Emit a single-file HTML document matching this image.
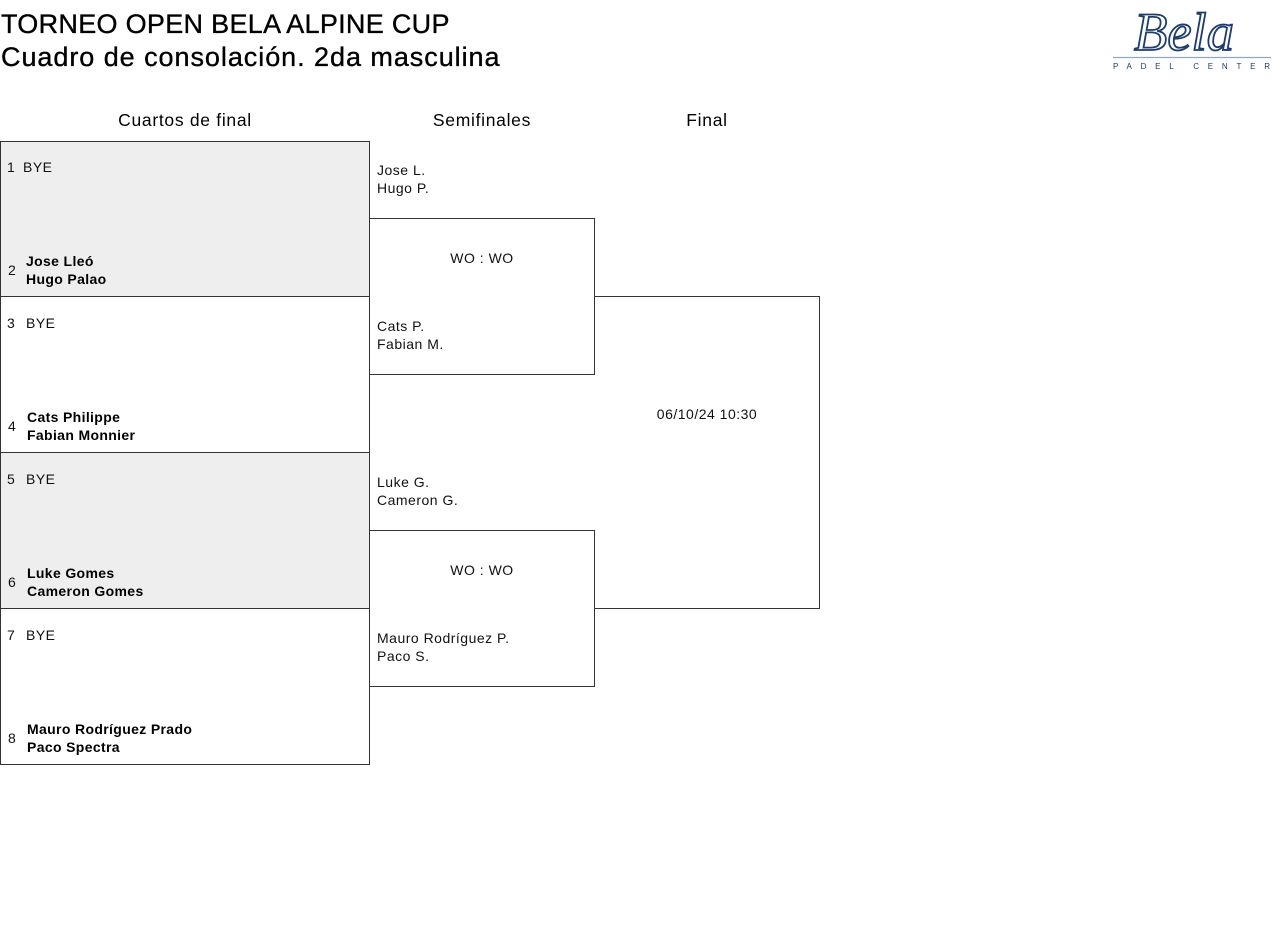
<!DOCTYPE html>
<html><head><meta charset="utf-8">
<style>
html,body{margin:0;padding:0;background:#fff;}
body{width:1280px;height:949px;position:relative;overflow:hidden;font-family:"Liberation Sans",Arial,sans-serif;color:#111;}
.a{position:absolute;}
.box{position:absolute;box-sizing:border-box;border:1px solid #333;}
.t{position:absolute;font-size:14px;line-height:18px;white-space:nowrap;letter-spacing:0.5px;color:#111;}
.b{font-weight:bold;color:#000;letter-spacing:0.35px;}
.h{position:absolute;font-size:17.5px;line-height:20px;white-space:nowrap;text-align:center;color:#000;letter-spacing:0.7px;}
.title{position:absolute;left:1px;font-size:27px;line-height:33px;white-space:nowrap;color:#000;-webkit-text-stroke:0.35px #000;}
</style></head><body>

<div class="title" style="top:8px;letter-spacing:0.3px;">TORNEO OPEN BELA ALPINE CUP</div>
<div class="title" style="top:41px;letter-spacing:0.95px;">Cuadro de consolación. 2da masculina</div>

<svg class="a" style="left:1100px;top:0px" width="180" height="80" viewBox="0 0 180 80">
  <text x="34" y="50" font-family="Liberation Serif, serif" font-style="italic" font-size="54" fill="none" stroke="#1d3d6e" stroke-width="1.8" textLength="100" lengthAdjust="spacingAndGlyphs">Bela</text>
  <line x1="13" y1="57.5" x2="171" y2="57.5" stroke="#8fa6c4" stroke-width="1.2"/>
  <text x="13" y="69" font-family="Liberation Sans, sans-serif" font-size="8" fill="#1d3d6e" textLength="157" lengthAdjust="spacing">PADEL CENTER</text>
</svg>

<div class="h" style="left:85px;width:200px;top:110px;">Cuartos de final</div>
<div class="h" style="left:382px;width:200px;top:110px;">Semifinales</div>
<div class="h" style="left:607px;width:200px;top:110px;">Final</div>

<!-- quarter boxes -->
<div class="box" style="left:0;top:141px;width:370px;height:156px;background:#eeeeee;"></div>
<div class="box" style="left:0;top:296px;width:370px;height:157px;background:#fff;"></div>
<div class="box" style="left:0;top:452px;width:370px;height:157px;background:#eeeeee;"></div>
<div class="box" style="left:0;top:608px;width:370px;height:157px;background:#fff;"></div>

<!-- semis boxes -->
<div class="box" style="left:369px;top:218px;width:226px;height:157px;"></div>
<div class="box" style="left:369px;top:530px;width:226px;height:157px;"></div>

<!-- final box (no left border) -->
<div class="box" style="left:594px;top:296px;width:226px;height:313px;border-left:none;"></div>

<!-- quarter texts -->
<div class="t" style="left:7px;top:158px;">1</div>
<div class="t" style="left:23px;top:158px;">BYE</div>
<div class="t" style="left:8px;top:261px;">2</div>
<div class="t b" style="left:26px;top:252px;">Jose Lleó<br>Hugo Palao</div>

<div class="t" style="left:7px;top:314px;">3</div>
<div class="t" style="left:26px;top:314px;">BYE</div>
<div class="t" style="left:8px;top:417px;">4</div>
<div class="t b" style="left:27px;top:408px;">Cats Philippe<br>Fabian Monnier</div>

<div class="t" style="left:7px;top:470px;">5</div>
<div class="t" style="left:26px;top:470px;">BYE</div>
<div class="t" style="left:8px;top:573px;">6</div>
<div class="t b" style="left:27px;top:564px;">Luke Gomes<br>Cameron Gomes</div>

<div class="t" style="left:7px;top:626px;">7</div>
<div class="t" style="left:26px;top:626px;">BYE</div>
<div class="t" style="left:8px;top:729px;">8</div>
<div class="t b" style="left:27px;top:720px;">Mauro Rodríguez Prado<br>Paco Spectra</div>

<!-- semis texts -->
<div class="t" style="left:377px;top:161px;">Jose L.<br>Hugo P.</div>
<div class="t" style="left:369px;width:226px;text-align:center;top:249px;">WO : WO</div>
<div class="t" style="left:377px;top:317px;">Cats P.<br>Fabian M.</div>

<div class="t" style="left:377px;top:473px;">Luke G.<br>Cameron G.</div>
<div class="t" style="left:369px;width:226px;text-align:center;top:561px;">WO : WO</div>
<div class="t" style="left:377px;top:629px;">Mauro Rodríguez P.<br>Paco S.</div>

<!-- final text -->
<div class="t" style="left:594px;width:226px;text-align:center;top:405px;">06/10/24 10:30</div>

</body></html>
